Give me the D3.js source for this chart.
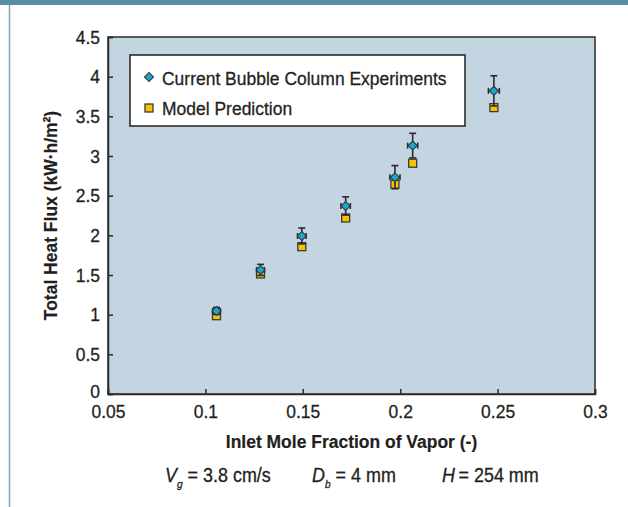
<!DOCTYPE html>
<html>
<head>
<meta charset="utf-8">
<script src="https://cdn.jsdelivr.net/npm/d3@7"></script>
<style>
  html, body { margin: 0; padding: 0; background: #fff; }
  svg text { font-family: "Liberation Sans", Arial, Helvetica, sans-serif; fill: #231f20; stroke: #231f20; stroke-width: 0.3px; }
</style>
</head>
<body>
<svg id="chart" width="628" height="507"></svg>
<script>
// Inlet vapour mole fraction for each run
const moleFraction = [0.1057, 0.1283, 0.1495, 0.1720, 0.1973, 0.2064, 0.2481];
// Measured total heat flux (kW·h/m²) with its uncertainty
const measuredFlux = [1.047, 1.564, 1.992, 2.370, 2.733, 3.131, 3.821];
const fluxError = [0.045, 0.070, 0.100, 0.115, 0.146, 0.155, 0.190];
const fractionError = [0.0020, 0.0020, 0.0022, 0.0024, 0.0026, 0.0026, 0.0028];
// Predicted total heat flux from the model
const modelFlux = [0.987, 1.513, 1.857, 2.219, 2.644, 2.909, 3.610];

const xTicks = [0.05, 0.1, 0.15, 0.2, 0.25, 0.3];
const yTicks = [0, 0.5, 1, 1.5, 2, 2.5, 3, 3.5, 4, 4.5];
const seriesNames = ["Current Bubble Column Experiments", "Model Prediction"];

const svg = d3.select("#chart");
const W = 628, H = 507;
const m = { left: 108, right: 595, top: 37, bottom: 394 };
const SX = 0.92;          // horizontal squeeze for a condensed face
const FS = 19;

// text placed at (x, y) and squeezed horizontally
function label(parent, px, py, str, opts = {}) {
  const g = parent.append("g").attr("transform", `translate(${px},${py})${opts.rotate ? ` rotate(${opts.rotate})` : ""} scale(${SX},1)`);
  const t = g.append("text").attr("font-size", opts.size || FS)
    .attr("text-anchor", opts.anchor || "start");
  if (opts.bold) t.attr("font-weight", "bold").style("stroke-width", "0.2px");
  if (str != null) t.text(str);
  return t;
}

// page frame: top band and left rule
svg.append("rect").attr("x", 0).attr("y", 0).attr("width", W).attr("height", 5).attr("fill", "#5a8ea8");
svg.append("line").attr("x1", 9.5).attr("x2", 9.5).attr("y1", 5).attr("y2", H)
  .attr("stroke", "#7aa6bf").attr("stroke-width", 1.5);

const x = d3.scaleLinear().domain([0.05, 0.3]).range([m.left, m.right]);
const y = d3.scaleLinear().domain([0, 4.5]).range([m.bottom, m.top]);

// plot background
svg.append("rect").attr("x", m.left).attr("y", m.top)
  .attr("width", m.right - m.left).attr("height", m.bottom - m.top)
  .attr("fill", "#c2d5e0").attr("stroke", "#2b2b2b").attr("stroke-width", 1.5);

const fmt = d => String(d);
function styleAxis(g) {
  g.select(".domain").attr("stroke", "#2b2b2b").attr("stroke-width", 1.5);
  g.selectAll(".tick line").attr("stroke", "#2b2b2b").attr("stroke-width", 1.5);
  g.selectAll(".tick text").attr("font-size", FS).attr("fill", "#231f20")
    .each(function () {
      const t = d3.select(this);
      const xv = +(t.attr("x") || 0);
      t.attr("x", xv / SX).attr("transform", `scale(${SX},1)`);
    });
}

// x axis, ticks pointing into the plot
const xAxis = svg.append("g").attr("transform", `translate(0,${m.bottom})`)
  .call(d3.axisBottom(x).tickValues(xTicks).tickFormat(fmt).tickSize(-5).tickPadding(11));
styleAxis(xAxis);

// y axis, ticks pointing into the plot
const yAxis = svg.append("g").attr("transform", `translate(${m.left},0)`)
  .call(d3.axisLeft(y).tickValues(yTicks).tickFormat(fmt).tickSize(-5).tickPadding(8));
styleAxis(yAxis);
// lift the bottom y label a touch so it clears the first x label
yAxis.selectAll(".tick text").filter(d => d === 0).attr("dy", "0.2em");

// axis titles
label(svg, (m.left + m.right) / 2, 448, "Inlet Mole Fraction of Vapor (-)", { anchor: "middle", bold: true });
label(svg, 57, (m.top + m.bottom) / 2, "Total Heat Flux (kW·h/m²)", { anchor: "middle", bold: true, rotate: -90 });

// experimental conditions line
const parts = [
  { x: 165, main: "V", sub: "g", rest: " = 3.8 cm/s" },
  { x: 312, main: "D", sub: "b", rest: " = 4 mm" },
  { x: 442, main: "H", sub: null, rest: "\u2009= 254 mm" }
];
parts.forEach(p => {
  const t = label(svg, p.x, 482, null, { size: 19.5 });
  t.append("tspan").attr("font-style", "italic").text(p.main);
  if (p.sub) t.append("tspan").attr("font-style", "italic").attr("font-size", 11).attr("dy", 6).text(p.sub);
  t.append("tspan").attr("dy", p.sub ? -6 : 0).text(p.rest);
});

const pts = moleFraction.map((f, i) => ({
  f, meas: measuredFlux[i], err: fluxError[i], xerr: fractionError[i], model: modelFlux[i]
}));

// square rotated 45° for the measured points
const diamondPath = d3.symbol().type(d3.symbolSquare).size(40)();
const ink = "#2b2b2b";

// model prediction squares
svg.append("g").selectAll("rect").data(pts).join("rect")
  .attr("x", d => x(d.f) - 4).attr("y", d => y(d.model) - 4)
  .attr("width", 8).attr("height", 8)
  .attr("fill", "#f6c400").attr("stroke", "#3a3a3a").attr("stroke-width", 1.3);

// measurement error bars
const eb = svg.append("g").attr("stroke", ink).attr("stroke-width", 1.6).attr("fill", "none");
pts.forEach(d => {
  const cx = x(d.f), top = y(d.meas + d.err), bot = y(d.meas - d.err), cy = y(d.meas);
  eb.append("line").attr("x1", cx).attr("x2", cx).attr("y1", top).attr("y2", bot);
  eb.append("line").attr("x1", cx - 3.5).attr("x2", cx + 3.5).attr("y1", top).attr("y2", top);
  eb.append("line").attr("x1", cx - 3.5).attr("x2", cx + 3.5).attr("y1", bot).attr("y2", bot);
  const l = x(d.f - d.xerr), r = x(d.f + d.xerr);
  eb.append("line").attr("x1", l).attr("x2", r).attr("y1", cy).attr("y2", cy);
  eb.append("line").attr("x1", l).attr("x2", l).attr("y1", cy - 3).attr("y2", cy + 3);
  eb.append("line").attr("x1", r).attr("x2", r).attr("y1", cy - 3).attr("y2", cy + 3);
});

// measured diamonds
svg.append("g").selectAll("path").data(pts).join("path")
  .attr("d", diamondPath)
  .attr("transform", d => `translate(${x(d.f)},${y(d.meas)}) rotate(45)`)
  .attr("fill", "#1ea5cc").attr("stroke", "#2b3a40").attr("stroke-width", 1.1);

// legend
const lg = svg.append("g");
lg.append("rect").attr("x", 130).attr("y", 55).attr("width", 335).attr("height", 71)
  .attr("fill", "#fff").attr("stroke", "#2b2b2b").attr("stroke-width", 1.6);
lg.append("path").attr("d", diamondPath).attr("transform", "translate(149,77) rotate(45)")
  .attr("fill", "#1ea5cc").attr("stroke", "#2b3a40").attr("stroke-width", 1.1);
lg.append("rect").attr("x", 145).attr("y", 104).attr("width", 8).attr("height", 8)
  .attr("fill", "#f6c400").attr("stroke", "#3a3a3a").attr("stroke-width", 1.3);
label(lg, 162, 85, seriesNames[0]);
label(lg, 162, 115, seriesNames[1]);
</script>
</body>
</html>
